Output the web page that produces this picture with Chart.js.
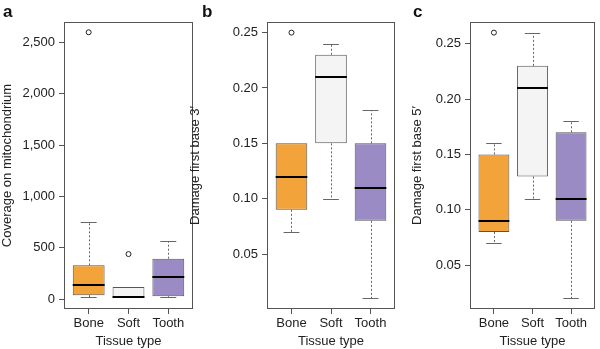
<!DOCTYPE html>
<html><head><meta charset="utf-8">
<script src="https://cdn.jsdelivr.net/npm/chart.js@4"></script>
<style>
html,body{margin:0;padding:0;background:#fff;}
#wrap{position:relative;width:600px;height:349px;overflow:hidden;background:#fff;}
canvas{position:absolute;top:0;}
.lab{position:absolute;font:bold 17px "Liberation Sans",Arial,sans-serif;line-height:17px;color:#111;}
</style></head><body>
<div id="wrap">
<canvas id="ca" width="200" height="349" style="left:0px"></canvas>
<canvas id="cb" width="212" height="349" style="left:188px"></canvas>
<canvas id="cc" width="190" height="349" style="left:410px"></canvas>
<div class="lab" style="left:3px;top:3px">a</div>
<div class="lab" style="left:202px;top:3px">b</div>
<div class="lab" style="left:413px;top:3px">c</div>
</div>
<script>
const categories = ['Bone', 'Soft', 'Tooth'];
const positions = [1, 2, 3];
const boxColors = ['#F2A33A', '#F4F4F4', '#9A8BC5'];

// Panel a: Coverage on mitochondrium
const covWhiskerLow = [20, 12, 20];
const covQ1 = [40, 12, 30];
const covMedian = [140, 22, 215];
const covQ3 = [330, 120, 395];
const covWhiskerHigh = [750, 120, 565];
const covOutliers = [[2600], [440], []];
const covTicks = [0, 500, 1000, 1500, 2000, 2500];

// Panel b: Damage first base 3'
const d3WhiskerLow = [0.07, 0.10, 0.01];
const d3Q1 = [0.09, 0.15, 0.08];
const d3Median = [0.12, 0.21, 0.11];
const d3Q3 = [0.15, 0.23, 0.15];
const d3WhiskerHigh = [0.15, 0.24, 0.18];
const d3Outliers = [[0.25], [], []];

// Panel c: Damage first base 5'
const d5WhiskerLow = [0.07, 0.11, 0.02];
const d5Q1 = [0.08, 0.13, 0.09];
const d5Median = [0.09, 0.21, 0.11];
const d5Q3 = [0.15, 0.23, 0.17];
const d5WhiskerHigh = [0.16, 0.26, 0.18];
const d5Outliers = [[0.26], [], []];

const damageTicks = [0.05, 0.10, 0.15, 0.20, 0.25];

Chart.defaults.font.family = '"Liberation Sans", Arial, Helvetica, sans-serif';
Chart.defaults.font.size = 13;
Chart.defaults.color = '#222';

function makePlugin(low, q1, med, q3, high) {
  return {
    id: 'boxparts',
    beforeDatasetsDraw(chart) {
      const ctx = chart.ctx, y = chart.scales.y;
      const bars = chart.getDatasetMeta(0).data;
      ctx.save();
      ctx.strokeStyle = '#666';
      ctx.lineWidth = 1;
      bars.forEach((bar, i) => {
        const {x, width} = bar.getProps(['x', 'width'], true);
        const cx = Math.round(x) + 0.5;
        const pairs = [[q3[i], high[i]], [q1[i], low[i]]];
        pairs.forEach(([from, to]) => {
          if (from === to) return;
          const y1 = y.getPixelForValue(from), y2 = Math.round(y.getPixelForValue(to)) + 0.5;
          ctx.setLineDash([2, 2]);
          ctx.beginPath(); ctx.moveTo(cx, y1); ctx.lineTo(cx, y2); ctx.stroke();
          ctx.setLineDash([]);
          ctx.beginPath(); ctx.moveTo(x - width / 4, y2); ctx.lineTo(x + width / 4, y2); ctx.stroke();
        });
      });
      ctx.restore();
    },
    afterDatasetsDraw(chart) {
      const ctx = chart.ctx, y = chart.scales.y;
      const bars = chart.getDatasetMeta(0).data;
      ctx.save();
      ctx.strokeStyle = '#000';
      ctx.lineWidth = 2;
      bars.forEach((bar, i) => {
        const {x, width} = bar.getProps(['x', 'width'], true);
        const ym = Math.round(y.getPixelForValue(med[i]));
        ctx.beginPath(); ctx.moveTo(x - width / 2, ym); ctx.lineTo(x + width / 2, ym); ctx.stroke();
      });
      ctx.restore();
    },
    afterDraw(chart) {
      const a = chart.chartArea, ctx = chart.ctx;
      ctx.save();
      ctx.strokeStyle = '#555';
      ctx.lineWidth = 1;
      ctx.strokeRect(Math.round(a.left) + 0.5, Math.round(a.top) + 0.5,
        Math.round(a.right - a.left) - 1, Math.round(a.bottom - a.top) - 1);
      ctx.restore();
    }
  };
}

function makeChart(id, opts) {
  const boxData = positions.map((p, i) => ({x: p, y: [opts.q1[i], opts.q3[i]]}));
  const outData = [];
  opts.outliers.forEach((list, i) => list.forEach(v => outData.push({x: positions[i], y: v})));
  return new Chart(document.getElementById(id), {
    type: 'bar',
    data: {
      datasets: [
        {
          type: 'bar', data: boxData,
          backgroundColor: boxColors, borderColor: '#555', borderWidth: 1,
          borderSkipped: false, categoryPercentage: 1, barPercentage: 0.8
        },
        {
          type: 'scatter', data: outData,
          pointRadius: 2.5, pointBorderColor: '#222', pointBorderWidth: 1,
          pointBackgroundColor: 'rgba(0,0,0,0)'
        }
      ]
    },
    options: {
      responsive: false, animation: false,
      layout: {padding: {top: 22, right: opts.padRight, left: 0, bottom: 0}},
      plugins: {legend: {display: false}, tooltip: {enabled: false}},
      scales: {
        x: {
          type: 'linear', min: 0.38, max: 3.62, offset: false,
          afterBuildTicks: s => { s.ticks = positions.map(v => ({value: v})); },
          afterFit: s => { s.height = 40; },
          ticks: {padding: 2, color: '#222', callback: (v, i) => categories[i]},
          grid: {offset: false, drawOnChartArea: false, drawTicks: true, tickLength: 5, color: '#555'},
          border: {display: false},
          title: {display: true, text: 'Tissue type', color: '#222', padding: {top: 0, bottom: 0}}
        },
        y: {
          type: 'linear', min: opts.min, max: opts.max,
          afterBuildTicks: s => { s.ticks = opts.ticks.map(v => ({value: v})); },
          afterFit: s => { s.width = opts.yWidth; },
          ticks: {padding: 4, color: '#222', callback: opts.fmt},
          grid: {offset: false, drawOnChartArea: false, drawTicks: true, tickLength: 5, color: '#555'},
          border: {display: false},
          title: {display: true, text: opts.title, color: '#222', padding: {top: 0, bottom: 0}}
        }
      }
    },
    plugins: [makePlugin(opts.low, opts.q1, opts.med, opts.q3, opts.high)]
  });
}

makeChart('ca', {
  low: covWhiskerLow, q1: covQ1, med: covMedian, q3: covQ3, high: covWhiskerHigh,
  outliers: covOutliers, ticks: covTicks, min: -95, max: 2700,
  fmt: v => Number(v).toLocaleString('en-US'),
  title: 'Coverage on mitochondrium', yWidth: 64, padRight: 7
});
makeChart('cb', {
  low: d3WhiskerLow, q1: d3Q1, med: d3Median, q3: d3Q3, high: d3WhiskerHigh,
  outliers: d3Outliers, ticks: damageTicks, min: 0.0004, max: 0.2596,
  fmt: v => Number(v).toFixed(2),
  title: 'Damage first base 3\u2032', yWidth: 79, padRight: 5
});
makeChart('cc', {
  low: d5WhiskerLow, q1: d5Q1, med: d5Median, q3: d5Q3, high: d5WhiskerHigh,
  outliers: d5Outliers, ticks: damageTicks, min: 0.0104, max: 0.2696,
  fmt: v => Number(v).toFixed(2),
  title: 'Damage first base 5\u2032', yWidth: 60, padRight: 1
});
</script>
</body></html>
